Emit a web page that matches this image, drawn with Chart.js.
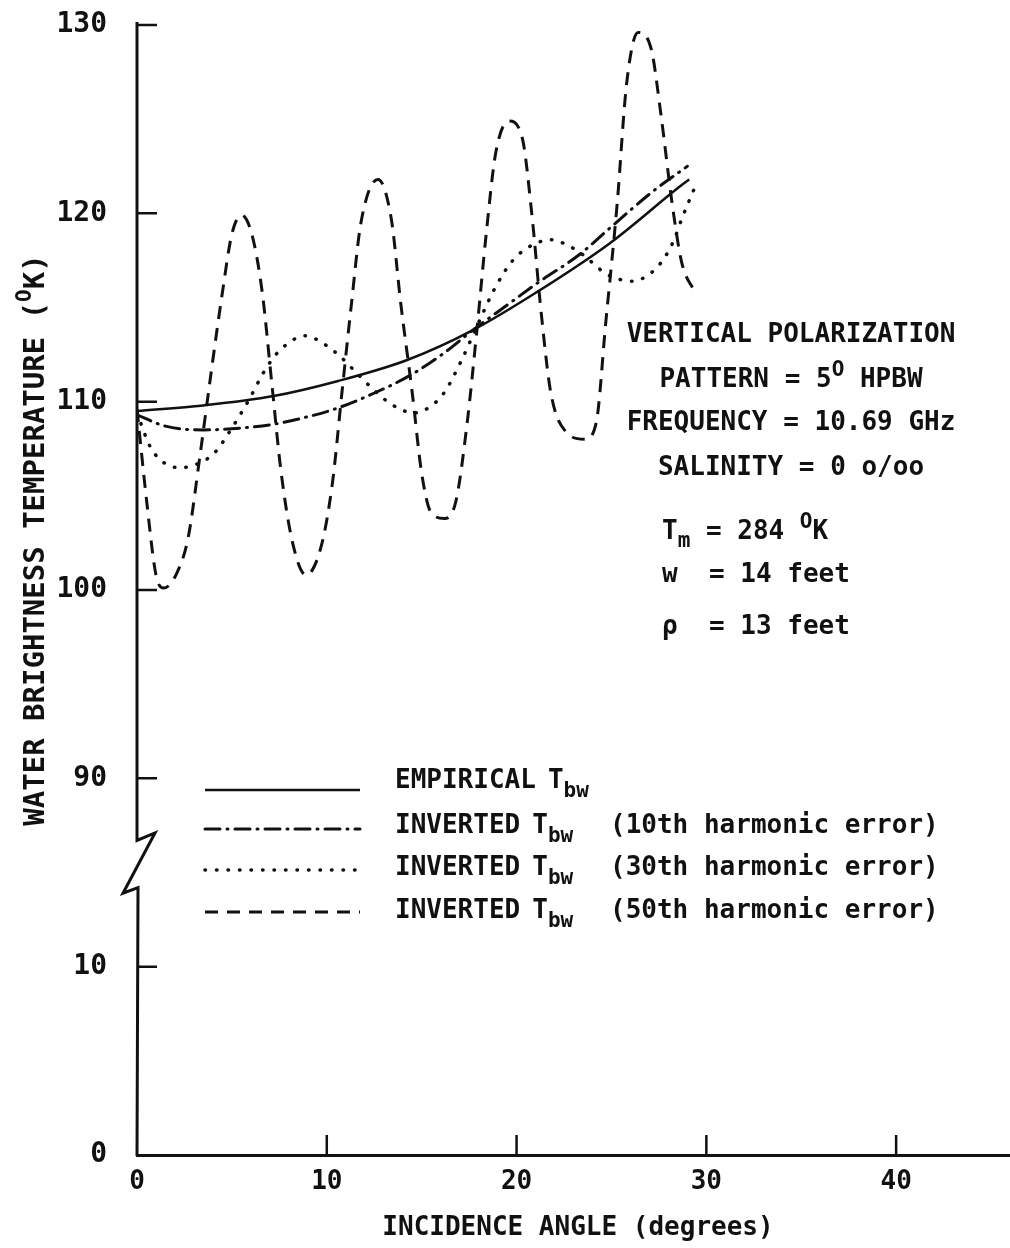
<!DOCTYPE html>
<html>
<head>
<meta charset="utf-8">
<title>Water brightness temperature vs incidence angle</title>
<script src="https://cdn.jsdelivr.net/npm/chart.js@4.4.0/dist/chart.umd.min.js"></script>
<style>
  html, body { margin: 0; padding: 0; background: #fff; }
</style>
</head>
<body>
<canvas id="tbwChart" width="1010" height="1248"></canvas>
<script>
const INK = '#111111';
const MONO = '"DejaVu Sans Mono", "Liberation Mono", monospace';

// axis ticks (the temperature axis is broken between 10 and 90)
const xTicks = [0, 10, 20, 30, 40];
const yTickValues = [0, 10, 90, 100, 110, 120, 130];
const BREAK_SHIFT = 70;

// empirical Tbw (solid)
const empiricalAngle = [0, 3.5, 7.2, 10.6, 14.2, 17.7, 21.2, 24.9, 28.7, 29.1];
const empiricalTbw = [109.5, 109.8, 110.3, 111.1, 112.2, 113.8, 115.9, 118.4, 121.5, 121.8];

// inverted Tbw, 10th harmonic error (dash-dot)
const h10Angle = [0, 1.5, 3.5, 5.5, 7.2, 9.0, 10.4, 12.6, 14.4, 16.2, 17.7, 19.6, 21.1, 23.3, 24.9, 27.1, 29.0];
const h10Tbw = [109.3, 108.7, 108.5, 108.6, 108.8, 109.2, 109.6, 110.5, 111.4, 112.6, 113.8, 115.2, 116.3, 117.8, 119.2, 121.1, 122.5];

// inverted Tbw, 30th harmonic error (dotted)
const h30Angle = [0, 0.7, 1.5, 2.3, 3.2, 4.1, 5.0, 5.9, 6.7, 7.5, 8.9, 9.8, 10.6, 11.5, 12.4, 13.5, 14.6, 15.4, 16.2, 17.1, 18.0, 18.9, 19.8, 20.8, 21.8, 22.7, 23.5, 24.7, 25.4, 26.1, 26.9, 27.7, 28.3, 28.7, 29.4];
const h30Tbw = [109.4, 107.6, 106.7, 106.5, 106.7, 107.3, 108.6, 110.1, 111.6, 112.7, 113.5, 113.1, 112.5, 111.6, 110.7, 109.8, 109.4, 109.7, 110.5, 112.2, 114.2, 116.1, 117.5, 118.3, 118.6, 118.3, 117.8, 116.8, 116.5, 116.4, 116.7, 117.5, 118.6, 119.7, 121.4];

// inverted Tbw, 50th harmonic error (dashed)
const h50Angle = [0, 0.5, 1.0, 1.4, 2.1, 2.7, 3.3, 3.9, 4.5, 5.0, 5.5, 6.05, 6.6, 7.1, 7.6, 8.2, 8.9, 9.7, 10.3, 10.8, 11.3, 11.8, 12.7, 13.4, 13.9, 14.5, 15.0, 15.5, 16.2, 16.8, 17.4, 17.9, 18.4, 18.9, 19.6, 20.3, 20.8, 21.3, 21.8, 22.6, 23.6, 24.2, 24.7, 25.3, 25.8, 26.4, 27.1, 27.6, 28.2, 28.7, 29.4];
const h50Tbw = [109.6, 104.8, 100.8, 100.1, 100.9, 102.8, 107.0, 111.5, 115.8, 118.9, 119.9, 118.9, 115.8, 111.0, 106.2, 102.5, 100.8, 102.3, 105.7, 110.5, 115.2, 119.5, 121.8, 119.7, 115.2, 110.5, 106.2, 104.1, 103.8, 104.7, 108.9, 113.7, 118.9, 123.2, 124.9, 124.0, 120.0, 114.7, 110.5, 108.4, 108.0, 108.9, 114.2, 120.5, 126.9, 129.6, 128.7, 125.3, 120.5, 117.4, 115.8];

const legendLabels = ['EMPIRICAL', 'INVERTED', 'INVERTED', 'INVERTED'];
const legendNotes = ['', '(10th harmonic error)', '(30th harmonic error)', '(50th harmonic error)'];

function toAxis(v) { return v >= 90 ? v - BREAK_SHIFT : v; }
function series(xs, ys) { return xs.map((x, i) => ({ x: x, y: toAxis(ys[i]) })); }
const yTickPos = yTickValues.map(toAxis);

function lineSet(label, xs, ys, dash, width, cap) {
  return {
    label: label,
    data: series(xs, ys),
    borderColor: INK,
    borderWidth: width,
    borderDash: dash,
    borderCapStyle: cap,
    pointRadius: 0,
    fill: false,
    cubicInterpolationMode: 'monotone'
  };
}

function drawRich(ctx, parts, x, y, align) {
  let total = 0;
  parts.forEach(p => { ctx.font = p.font; p.w = ctx.measureText(p.t).width; total += p.w; });
  let cx = align === 'center' ? x - total / 2 : x;
  ctx.textAlign = 'left';
  ctx.textBaseline = 'middle';
  parts.forEach(p => { ctx.font = p.font; ctx.fillText(p.t, cx, y + (p.dy || 0)); cx += p.w; });
  return cx;
}

const TXT = 'bold 26px ' + MONO;
const SMALL = 'bold 21px ' + MONO;

// axis break, inward ticks, legend and notes
const paperPlugin = {
  id: 'paper',
  beforeDraw(chart) {
    const ctx = chart.ctx;
    ctx.save();
    ctx.fillStyle = '#fff';
    ctx.fillRect(0, 0, chart.width, chart.height);
    ctx.restore();
  },
  afterDraw(chart) {
    const { ctx, chartArea: a, scales: { x, y } } = chart;
    const L = a.left;
    const yp = d => y.getPixelForValue(d);
    ctx.save();
    ctx.strokeStyle = INK;
    ctx.fillStyle = INK;
    ctx.setLineDash([]);

    // y axis with zigzag break
    ctx.lineWidth = 3;
    ctx.lineJoin = 'miter';
    ctx.beginPath();
    ctx.moveTo(L, yp(60) - 3);
    ctx.lineTo(L, yp(16.7));
    ctx.lineTo(L + 18, yp(17.1));
    ctx.lineTo(L - 14, yp(13.9));
    ctx.lineTo(L + 1, yp(14.2));
    ctx.lineTo(L, a.bottom + 1);
    ctx.stroke();

    // tick marks point into the plot
    ctx.lineWidth = 2.5;
    ctx.beginPath();
    yTickPos.forEach(d => {
      if (d === 0) return;
      ctx.moveTo(L, yp(d));
      ctx.lineTo(L + 20, yp(d));
    });
    xTicks.forEach(v => {
      if (v === 0) return;
      const px = x.getPixelForValue(v);
      ctx.moveTo(px, a.bottom);
      ctx.lineTo(px, a.bottom - 20);
    });
    ctx.stroke();

    // legend
    const lineY = [790, 829, 870, 912];
    const textY = [781, 826, 868, 911];
    chart.data.datasets.forEach((ds, i) => {
      ctx.save();
      ctx.lineWidth = ds.borderWidth;
      ctx.setLineDash(ds.borderDash);
      ctx.lineCap = ds.borderCapStyle;
      ctx.beginPath();
      ctx.moveTo(205, lineY[i]);
      ctx.lineTo(360, lineY[i]);
      ctx.stroke();
      ctx.restore();
      const end = drawRich(ctx, [{ t: legendLabels[i], font: TXT }], 395, textY[i], 'left');
      drawRich(ctx, [{ t: 'T', font: TXT }, { t: 'bw', font: SMALL, dy: 11 }], Math.max(528, end + 12), textY[i], 'left');
      if (legendNotes[i]) drawRich(ctx, [{ t: legendNotes[i], font: TXT }], 610, textY[i], 'left');
    });

    // measurement notes
    drawRich(ctx, [{ t: 'VERTICAL POLARIZATION', font: TXT }], 791, 335, 'center');
    drawRich(ctx, [{ t: 'PATTERN = 5', font: TXT }, { t: 'O', font: SMALL, dy: -9 }, { t: ' HPBW', font: TXT }], 791, 380, 'center');
    drawRich(ctx, [{ t: 'FREQUENCY = 10.69 GHz', font: TXT }], 791, 423, 'center');
    drawRich(ctx, [{ t: 'SALINITY = 0 o/oo', font: TXT }], 791, 468, 'center');
    drawRich(ctx, [{ t: 'T', font: TXT }, { t: 'm', font: SMALL, dy: 10 }, { t: ' = 284 ', font: TXT }, { t: 'O', font: SMALL, dy: -9 }, { t: 'K', font: TXT }], 662, 532, 'left');
    drawRich(ctx, [{ t: 'w  = 14 feet', font: TXT }], 662, 575, 'left');
    drawRich(ctx, [{ t: '\u03c1  = 13 feet', font: TXT }], 662, 627, 'left');

    // axis titles
    drawRich(ctx, [{ t: 'INCIDENCE ANGLE (degrees)', font: TXT }], 578, 1228, 'center');
    ctx.save();
    ctx.translate(36, 540);
    ctx.rotate(-Math.PI / 2);
    drawRich(ctx, [{ t: 'WATER BRIGHTNESS TEMPERATURE (', font: 'bold 29px ' + MONO }, { t: 'O', font: 'bold 21px ' + MONO, dy: -10 }, { t: 'K)', font: 'bold 29px ' + MONO }], 0, 0, 'center');
    ctx.restore();

    ctx.restore();
  }
};

const config = {
  type: 'line',
  data: {
    datasets: [
      lineSet('EMPIRICAL Tbw', empiricalAngle, empiricalTbw, [], 2.5, 'butt'),
      lineSet('INVERTED Tbw (10th harmonic error)', h10Angle, h10Tbw, [15, 7, 1, 7], 3, 'round'),
      lineSet('INVERTED Tbw (30th harmonic error)', h30Angle, h30Tbw, [0.5, 11], 3.5, 'round'),
      lineSet('INVERTED Tbw (50th harmonic error)', h50Angle, h50Tbw, [13, 9], 3, 'butt')
    ]
  },
  options: {
    responsive: false,
    animation: false,
    devicePixelRatio: 1,
    layout: { padding: { top: 25, right: 0, left: 0, bottom: 0 } },
    plugins: {
      legend: { display: false },
      tooltip: { enabled: false },
      title: { display: false }
    },
    scales: {
      x: {
        type: 'linear',
        min: 0,
        max: 46,
        grid: { display: false, drawTicks: false },
        border: { display: true, color: INK, width: 3 },
        ticks: { color: INK, font: { family: MONO, size: 26, weight: 'bold' }, padding: 12 },
        afterBuildTicks: s => { s.ticks = xTicks.map(v => ({ value: v })); },
        afterFit: s => { s.height = 93; s.paddingLeft = 0; s.paddingRight = 0; }
      },
      y: {
        type: 'linear',
        min: 0,
        max: 60,
        grid: { display: false, drawTicks: false },
        border: { display: false },
        ticks: {
          color: INK,
          font: { family: MONO, size: 28, weight: 'bold' },
          padding: 30,
          callback: v => {
            const i = yTickPos.indexOf(v);
            return i >= 0 ? String(yTickValues[i]) : '';
          }
        },
        afterBuildTicks: s => { s.ticks = yTickPos.map(v => ({ value: v })); },
        afterFit: s => { s.width = 137; s.paddingTop = 0; s.paddingBottom = 0; }
      }
    }
  },
  plugins: [paperPlugin]
};

window.onload = function() {
  const ctx = document.getElementById('tbwChart').getContext('2d');
  new Chart(ctx, config);
};
</script>
</body>
</html>
